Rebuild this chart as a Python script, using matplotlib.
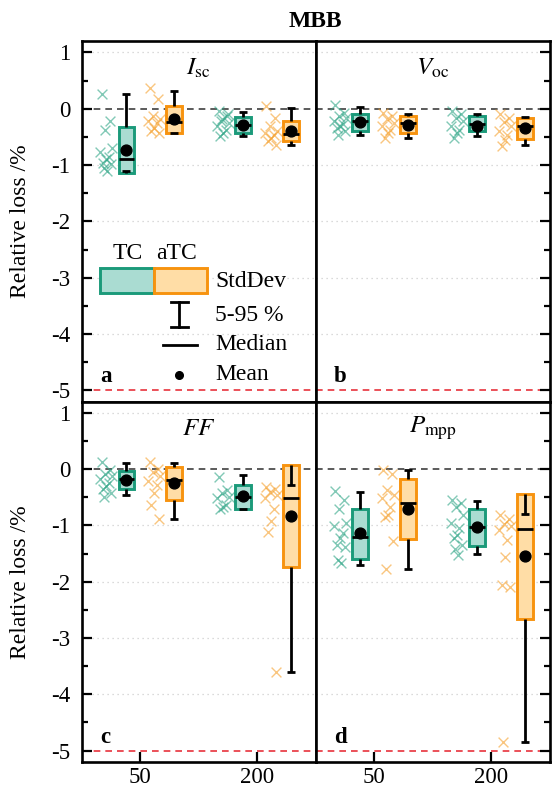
import matplotlib
matplotlib.use("Agg")
import matplotlib.pyplot as plt
from matplotlib.patches import Rectangle
from matplotlib.ticker import MultipleLocator, FixedLocator
import numpy as np

plt.rcParams['font.family'] = ['Liberation Serif', 'DejaVu Serif']
plt.rcParams['mathtext.fontset'] = 'stix'
plt.rcParams['axes.unicode_minus'] = False

# ---------------- data ----------------
temps = ["50", "200"]
panel_titles = [r'$I_{\mathrm{sc}}$', r'$V_{\mathrm{oc}}$', r'$FF$', r'$P_{\mathrm{mpp}}$']
panel_letters = ["a", "b", "c", "d"]
# group order inside each panel: TC@50, aTC@50, TC@200, aTC@200

box_lo = [[-1.14, -0.43, -0.43, -0.58],
          [-0.39, -0.43, -0.40, -0.53],
          [-0.36, -0.55, -0.70, -1.73],
          [-1.60, -1.24, -1.36, -2.66]]
box_hi = [[-0.32, 0.05, -0.15, -0.21],
          [-0.10, -0.13, -0.13, -0.17],
          [-0.03, 0.04, -0.28, 0.07],
          [-0.71, -0.18, -0.70, -0.45]]
whisk_lo = [[-1.11, -0.43, -0.49, -0.64],
            [-0.46, -0.52, -0.49, -0.65],
            [-0.46, -0.89, -0.70, -3.60],
            [-1.70, -1.78, -1.51, -4.85]]
whisk_hi = [[0.27, 0.32, -0.05, 0.02],
            [0.03, -0.10, -0.10, -0.14],
            [0.10, 0.10, -0.11, -0.28],
            [-0.40, -0.02, -0.56, -0.80]]
medians = [[-0.89, -0.23, -0.28, -0.45],
           [-0.22, -0.25, -0.27, -0.31],
           [-0.18, -0.20, -0.49, -0.51],
           [-1.21, -0.60, -1.02, -1.07]]
means = [[-0.73, -0.18, -0.28, -0.39],
         [-0.23, -0.29, -0.30, -0.34],
         [-0.20, -0.25, -0.47, -0.83],
         [-1.14, -0.70, -1.02, -1.54]]

isc_points = [[0.27, -0.21, -0.38, -0.70, -0.76, -0.85, -0.90, -0.96, -0.99, -1.05, -1.11],
              [0.36, 0.17, -0.13, -0.19, -0.22, -0.25, -0.34, -0.39, -0.43],
              [-0.04, -0.13, -0.19, -0.25, -0.31, -0.37, -0.43, -0.49, -0.10, -0.22],
              [0.05, -0.17, -0.31, -0.40, -0.43, -0.47, -0.52, -0.58, -0.64]]
voc_points = [[0.07, -0.07, -0.13, -0.17, -0.22, -0.27, -0.31, -0.35, -0.40, -0.46],
              [-0.07, -0.13, -0.19, -0.25, -0.31, -0.37, -0.43, -0.52],
              [-0.04, -0.10, -0.16, -0.22, -0.31, -0.37, -0.43, -0.52],
              [-0.10, -0.17, -0.23, -0.31, -0.39, -0.46, -0.55, -0.67]]
ff_points = [[0.13, -0.02, -0.08, -0.12, -0.18, -0.24, -0.30, -0.36, -0.43, -0.49],
             [0.13, 0.01, -0.05, -0.12, -0.22, -0.28, -0.43, -0.64, -0.89],
             [-0.14, -0.37, -0.43, -0.49, -0.52, -0.64, -0.67, -0.70],
             [-0.31, -0.36, -0.40, -0.46, -0.52, -0.70, -0.93, -1.11, -3.60]]
pmpp_points = [[-0.38, -0.55, -0.70, -0.96, -1.01, -1.14, -1.23, -1.35, -1.38, -1.62, -1.67],
               [-0.02, -0.08, -0.37, -0.46, -0.52, -0.67, -0.82, -0.85, -1.27, -1.78],
               [-0.55, -0.61, -0.67, -0.82, -0.96, -1.05, -1.17, -1.23, -1.35, -1.41, -1.53],
               [-0.82, -0.88, -0.98, -1.01, -1.08, -1.26, -1.56, -2.06, -2.10, -4.85]]
all_points = [isc_points, voc_points, ff_points, pmpp_points]

# ---------------- style ----------------
TC_EDGE, TC_FACE, TC_PT = '#1b9a7a', '#aadcd2', '#2fa586'
ATC_EDGE, ATC_FACE, ATC_PT = '#f7930f', '#ffdda6', '#f5a02c'
JITTER = [-0.04, 0.03, -0.01, 0.05, -0.05, 0.02, 0.0, -0.03, 0.04, -0.02, 0.01]
# x offsets relative to each temperature tick: TC points, TC box, aTC points, aTC box
SC_OFFS = {True: -0.29, False: 0.12}
BOX_OFFS = {True: -0.12, False: 0.29}
BOX_W, CAP_W = 0.13, 0.035
FS = 16.5
LW = 2.0

fig, axes = plt.subplots(2, 2, figsize=(5.52, 7.92), dpi=100, sharex=True, sharey=True)
fig.subplots_adjust(left=0.148, right=0.9955, top=0.948, bottom=0.038, hspace=0, wspace=0)
axes = axes.ravel()

for k, ax in enumerate(axes):
    ax.set_xlim(-0.5, 1.5)
    ax.set_ylim(-5.2, 1.2)
    ax.yaxis.set_major_locator(FixedLocator(range(-5, 2)))
    ax.yaxis.set_minor_locator(MultipleLocator(0.5))
    for y in range(-4, 2):
        if y != 0:
            ax.axhline(y, color='#cfcfcf', ls=(0, (1, 3)), lw=0.9, zorder=0)
    ax.axhline(0, color='#404040', ls=(0, (4, 3)), lw=1.2, zorder=1)
    ax.axhline(-5, color='#e8323c', ls=(0, (4, 3)), lw=1.2, zorder=1)
    for s in ax.spines.values():
        s.set_linewidth(1.9)

    left_col = (k % 2 == 0)
    bottom_row = (k >= 2)
    ax.tick_params(axis='y', which='both', direction='in', width=1.6,
                   left=left_col, right=not left_col,
                   labelleft=left_col, labelright=False, labelsize=FS, pad=8)
    ax.tick_params(axis='y', which='major', length=7.5)
    ax.tick_params(axis='y', which='minor', length=4.5)
    ax.set_xticks([0, 1])
    ax.set_xticklabels(temps)
    ax.tick_params(axis='x', which='both', direction='in', width=1.6, length=7.5,
                   bottom=bottom_row, top=False, labelbottom=bottom_row,
                   labelsize=FS, pad=4)
    if left_col:
        ax.set_ylabel('Relative loss /%', fontsize=17)
        ax.yaxis.set_label_coords(-0.215, 0.5)

    pts = all_points[k]
    for g in range(4):
        ti = g // 2
        is_tc = (g % 2 == 0)
        xs = ti + SC_OFFS[is_tc]
        xb = ti + BOX_OFFS[is_tc]
        edge = TC_EDGE if is_tc else ATC_EDGE
        face = TC_FACE if is_tc else ATC_FACE
        pc = TC_PT if is_tc else ATC_PT
        yv = np.array(pts[g])
        jx = xs + np.array(JITTER[:len(yv)])
        ax.scatter(jx, yv, marker='x', s=50, color=pc, alpha=0.6, linewidths=1.0, zorder=2)
        lo, hi = box_lo[k][g], box_hi[k][g]
        ax.bar(xb, hi - lo, bottom=lo, width=BOX_W, facecolor=face, edgecolor=edge,
               linewidth=2.1, zorder=3)
        ax.vlines(xb, hi, whisk_hi[k][g], color='black', lw=LW, zorder=4)
        ax.vlines(xb, lo, whisk_lo[k][g], color='black', lw=LW, zorder=4)
        ax.hlines([whisk_hi[k][g], whisk_lo[k][g]], xb - CAP_W, xb + CAP_W, color='black', lw=LW, zorder=4)
        ax.hlines(medians[k][g], xb - BOX_W / 2, xb + BOX_W / 2, color='black', lw=LW, zorder=5)
        ax.plot([xb], [means[k][g]], 'o', color='black', ms=7.8, zorder=6)

    ax.text(0.5, 0.925, panel_titles[k], transform=ax.transAxes, ha='center', va='center', fontsize=18)
    ax.text(0.078, 0.069, panel_letters[k], transform=ax.transAxes, ha='left', va='center',
            fontsize=FS, fontweight='bold')

# ---------------- legend (panel a) ----------------
ax = axes[0]
tr = ax.transAxes
ax.text(0.197, 0.412, 'TC', transform=tr, ha='center', va='center', fontsize=17)
ax.text(0.406, 0.412, 'aTC', transform=tr, ha='center', va='center', fontsize=17)
ax.add_patch(Rectangle((0.078, 0.301), 0.229, 0.069, transform=tr, facecolor=TC_FACE,
                       edgecolor=TC_EDGE, lw=2.1, zorder=7))
ax.add_patch(Rectangle((0.307, 0.301), 0.230, 0.069, transform=tr, facecolor=ATC_FACE,
                       edgecolor=ATC_EDGE, lw=2.1, zorder=7))
ax.text(0.571, 0.333, 'StdDev', transform=tr, ha='left', va='center', fontsize=17)
ax.plot([0.418, 0.418], [0.207, 0.277], transform=tr, color='black', lw=LW)
ax.plot([0.383, 0.453], [0.277, 0.277], transform=tr, color='black', lw=LW)
ax.plot([0.383, 0.453], [0.207, 0.207], transform=tr, color='black', lw=LW)
ax.text(0.571, 0.240, '5-95 %', transform=tr, ha='left', va='center', fontsize=17)
ax.plot([0.346, 0.491], [0.157, 0.157], transform=tr, color='black', lw=LW)
ax.text(0.571, 0.157, 'Median', transform=tr, ha='left', va='center', fontsize=17)
ax.plot([0.418], [0.074], 'o', transform=tr, color='black', ms=5.5)
ax.text(0.571, 0.074, 'Mean', transform=tr, ha='left', va='center', fontsize=17)

fig.text(0.5 * (0.148 + 0.9955), 0.9726, 'MBB', ha='center', va='center', fontsize=17, fontweight='bold')

fig.savefig('out.png', dpi=100)
